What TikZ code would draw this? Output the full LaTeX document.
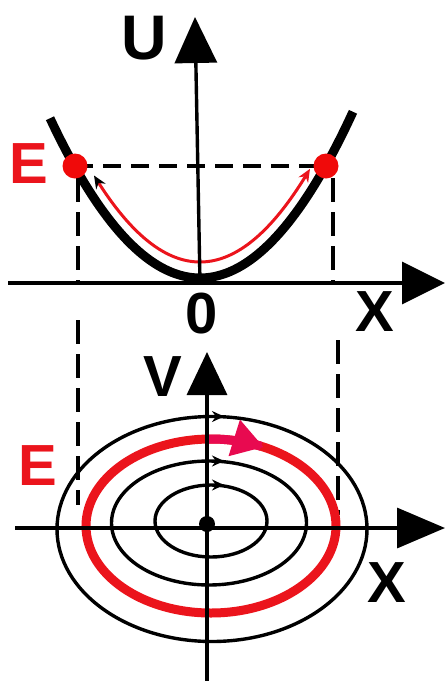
\documentclass[tikz,border=0pt]{standalone}
\usepackage{fontspec}
\setmainfont{Liberation Sans}
\usetikzlibrary{arrows.meta}
\definecolor{myred}{RGB}{235,20,28}
\definecolor{dotred}{RGB}{240,10,10}
\definecolor{pinkred}{RGB}{232,10,80}
\begin{document}
\begin{tikzpicture}[x=1pt,y=-1pt,
  axis/.style={line width=3.4pt},
  lbl/.style={inner sep=0pt, font=\bfseries\fontsize{58}{60}\selectfont},
  dsh/.style={line width=3.2pt, dash pattern=on 18pt off 10pt},
  thinell/.style={line width=3.4pt},
  dotnode/.style={circle, fill=dotred, minimum size=25pt, inner sep=0pt},
  smallarr/.style={line width=2pt, -{Stealth[length=12pt,width=11pt]}}
  ]
\useasboundingbox (0,0) rectangle (446,681);

% ---------- top: potential ----------
\coordinate (ubot) at (200,283);
\coordinate (utop) at (195,17);
\coordinate (xl) at (8,283);
\coordinate (xr) at (445,283);
\coordinate (pl) at (75,166);
\coordinate (pr) at (326,166);

% dashed guides
\draw[dsh] (pl) -- (pr);
\coordinate (dl1) at (78,178); \coordinate (dl2) at (78,283);
\coordinate (dr1) at (333,178); \coordinate (dr2) at (333,283);
\draw[dsh, dash pattern=on 24pt off 10pt] (dl1) -- (dl2);
\draw[dsh, dash pattern=on 24pt off 10pt] (dr1) -- (dr2);

% parabola
\draw[line width=9pt] plot[domain=-150:153, samples=80] ({200+\x},{278-0.71*(\x/10)*(\x/10)});

% red path of motion
\draw[line width=3pt, myred,
  {Stealth[length=13pt,width=11pt,color=black]}-{Stealth[length=13pt,width=11pt]}]
  plot[domain=-106:110, samples=80] ({200+\x},{262-0.77*(\x/10)*(\x/10)});

% axes
\draw[axis, -{Triangle[length=46pt,width=42pt]}] (ubot) -- (utop);
\draw[axis, -{Triangle[length=43pt,width=42pt]}] (xl) -- (xr);

% turning points
\node[dotnode] (dl) at (pl) {};
\node[dotnode] (dr) at (pr) {};

% labels
\node[lbl, font=\bfseries\fontsize{63}{64}\selectfont] (U) at (144,38) {U};
\node[lbl] (zero) at (202,314) {0};
\node[lbl] (X1) at (375,312) {X};
\node[lbl, text=myred] (E1) at (29,164) {E};

% ---------- bottom: phase plane ----------
\coordinate (dl3) at (78,320); \coordinate (dl4) at (78,505);
\coordinate (dr3) at (338,340); \coordinate (dr4) at (338,515);
\draw[dsh, dash pattern=on 24pt off 10pt] (dl3) -- (dl4);
\draw[dsh, dash pattern=on 24pt off 10pt] (dr3) -- (dr4);

\draw[thinell] (212,529) ellipse [x radius=155pt, y radius=112.5pt];
\draw[line width=9pt, myred] (211,526) ellipse [x radius=125pt, y radius=87pt];
\draw[thinell] (209,523) ellipse [x radius=97.5pt, y radius=62pt];
\draw[thinell] (211,521) ellipse [x radius=56pt, y radius=36pt];

% small direction arrows on ellipses
\coordinate (a1s) at (208,416.5); \coordinate (a1e) at (224,416.5);
\coordinate (a2s) at (208,461); \coordinate (a2e) at (224,461);
\coordinate (a3s) at (208,485); \coordinate (a3e) at (224,485);
\draw[smallarr] (a1s) -- (a1e);
\draw[smallarr] (a2s) -- (a2e);
\draw[smallarr] (a3s) -- (a3e);

% big arrow on energy ellipse
\draw[line width=9pt, pinkred, -{Triangle[length=31pt,width=36pt]}]
  plot[domain=-92:-65, samples=20] ({211+125*cos(\x)},{526+87*sin(\x)});

% axes
\coordinate (vb) at (207,681);
\coordinate (vt) at (207,352);
\coordinate (xl2) at (15,528);
\coordinate (xr2) at (445,528);
\draw[axis, -{Triangle[length=43pt,width=40pt]}] (vb) -- (vt);
\draw[axis, -{Triangle[length=48pt,width=40pt]}] (xl2) -- (xr2);

\node[circle, fill=black, minimum size=16pt, inner sep=0pt] (o) at (207,524) {};

\node[lbl] (V) at (163,377) {V};
\node[lbl] (X2) at (387,583) {X};
\node[lbl, text=myred] (E2) at (38,466) {E};
\end{tikzpicture}
\end{document}
